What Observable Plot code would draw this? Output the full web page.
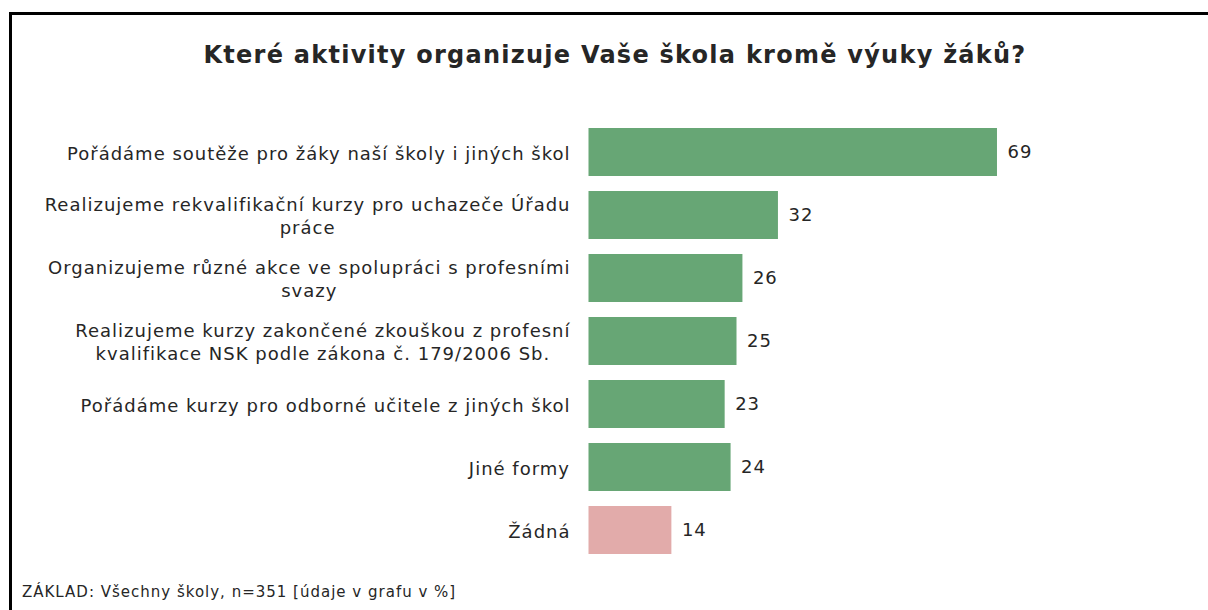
<!DOCTYPE html>
<html>
<head>
<meta charset="utf-8">
<script src="https://cdn.jsdelivr.net/npm/d3@7"></script>
<script src="https://cdn.jsdelivr.net/npm/@observablehq/plot@0.6"></script>
<style>
  html, body { margin: 0; padding: 0; background: #fff; width: 1208px; height: 610px; overflow: hidden; }
  body { position: relative; font-family: "DejaVu Sans", Verdana, sans-serif; color: #262626; }
  #frame { position: absolute; left: 9px; top: 12px; width: 1400px; height: 800px; border-left: 3px solid #000; border-top: 3px solid #000; }
  #title { position: absolute; left: 0; width: 1230px; top: 41px; line-height: 28px; text-align: center; font-weight: bold; font-size: 24px; letter-spacing: 1.25px; color: #262626; white-space: nowrap; }
  #chart { position: absolute; left: 0; top: 0; }
  #caption { position: absolute; left: 22px; top: 583px; line-height: 18px; font-size: 15px; letter-spacing: 1px; color: #262626; white-space: nowrap; }
  #chart svg { letter-spacing: 1px; }
</style>
</head>
<body>
<div id="frame"></div>
<div id="title">Které aktivity organizuje Vaše škola kromě výuky žáků?</div>
<div id="chart"></div>
<div id="caption">ZÁKLAD: Všechny školy, n=351 [údaje v grafu v %]</div>
<script>
const categories = [
  "Pořádáme soutěže pro žáky naší školy i jiných škol",
  "Realizujeme rekvalifikační kurzy pro uchazeče Úřadu práce",
  "Organizujeme různé akce ve spolupráci s profesními svazy",
  "Realizujeme kurzy zakončené zkouškou z profesní kvalifikace NSK podle zákona č. 179/2006 Sb.",
  "Pořádáme kurzy pro odborné učitele z jiných škol",
  "Jiné formy",
  "Žádná"
];
const tickLabels = [
  "Pořádáme soutěže pro žáky naší školy i jiných škol",
  "Realizujeme rekvalifikační kurzy pro uchazeče Úřadu\npráce",
  "Organizujeme různé akce ve spolupráci s profesními\nsvazy",
  "Realizujeme kurzy zakončené zkouškou z profesní\nkvalifikace NSK podle zákona č. 179/2006 Sb.",
  "Pořádáme kurzy pro odborné učitele z jiných škol",
  "Jiné formy",
  "Žádná"
];
const values = [69, 32, 26, 25, 23, 24, 14];
const groups = ["ano", "ano", "ano", "ano", "ano", "ano", "ne"];

const data = categories.map((c, i) => ({category: c, value: values[i], group: groups[i]}));
const labelOf = new Map(categories.map((c, i) => [c, tickLabels[i]]));

const plot = Plot.plot({
  width: 1208,
  height: 575,
  marginLeft: 588.5,
  marginRight: 27.5,
  marginTop: 112,
  marginBottom: 5,
  style: {fontFamily: "DejaVu Sans, Verdana, sans-serif", fontSize: "18px", color: "#262626", background: "transparent"},
  x: {domain: [0, 100], axis: null},
  y: {domain: categories, padding: 0.24, label: null},
  color: {domain: ["ano", "ne"], range: ["#67a675", "#e2abaa"]},
  marks: [
    Plot.barX(data, {y: "category", x: "value", fill: "group"}),
    Plot.text(data, {y: "category", x: "value", text: d => String(d.value), textAnchor: "start", dx: 10, fontSize: 18, fill: "#262626"}),
    Plot.axisY({tickSize: 0, tickPadding: 18.5, tickFormat: d => labelOf.get(d), fontSize: 18, fill: "#262626", lineHeight: 1.28})
  ]
});
document.getElementById("chart").appendChild(plot);

// Center multi-line label lines within the right-aligned block
plot.querySelectorAll("g[aria-label='y-axis tick label'] text").forEach(t => {
  const w = t.getBBox().width;
  t.setAttribute("text-anchor", "middle");
  const spans = t.querySelectorAll("tspan");
  if (spans.length) spans.forEach(s => s.setAttribute("x", -w / 2));
  else t.setAttribute("x", -w / 2 + (+t.getAttribute("x") || 0));
});
</script>
</body>
</html>
